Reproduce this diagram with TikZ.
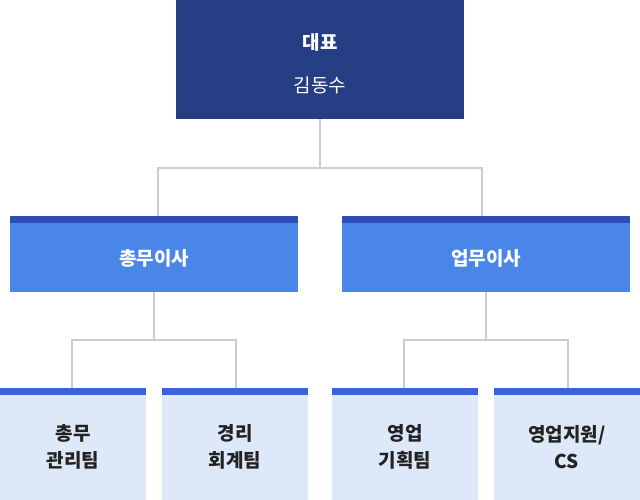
\documentclass[tikz,border=0pt]{standalone}
\usepackage{fontspec}
\setmainfont{Noto Sans CJK KR}
\newfontfamily\krb{Noto Sans CJK KR}[BoldFont={* Bold}]
\definecolor{navy}{HTML}{263E84}
\definecolor{midb}{HTML}{4A86E8}
\definecolor{strip}{HTML}{2E4DB8}
\definecolor{strip2}{HTML}{3A63D8}
\definecolor{light}{HTML}{DDE8F8}
\definecolor{ln}{HTML}{CCCCCC}
\definecolor{txt}{HTML}{222222}
\begin{document}
\begin{tikzpicture}[x=1pt,y=-1pt,
  conn/.style={draw=ln,line width=1.2pt},
  lbl/.style={font=\fontsize{19}{27}\selectfont\bfseries,align=center,inner sep=0}]
\useasboundingbox (0,0) rectangle (640,500);
% connectors
\coordinate (t) at (320,119);
\draw[conn] (t) -- (320,168) -| (158,216);
\draw[conn] (320,168) -| (482,216);
\draw[conn] (154,292) -- (154,340) -| (72,388);
\draw[conn] (154,340) -| (236,388);
\draw[conn] (486,292) -- (486,340) -| (404,388);
\draw[conn] (486,340) -| (568,388);
% top
\fill[navy] (176,0) rectangle (464,119);
\node[lbl,text=white] (ceo) at (320,42) {대표};
\node[font=\fontsize{19}{24}\selectfont,text=white,inner sep=0] (ceon) at (320,85) {김동수};
% mid
\foreach \x/\n/\t in {10/m1/총무이사,342/m2/업무이사}{
  \fill[midb] (\x,216) rectangle (\x+288,292);
  \fill[strip] (\x,216) rectangle (\x+288,223);
  \node[lbl,text=white] (\n) at (\x+144,258) {\t};
}
% bottom
\foreach \x/\n/\t in {0/b1/{총무\\관리팀},162/b2/{경리\\회계팀},332/b3/{영업\\기획팀},494/b4/{영업지원/\\CS}}{
  \fill[light] (\x,388) rectangle (\x+146,500);
  \fill[strip2] (\x,388) rectangle (\x+146,395);
  \node[lbl,text=txt] (\n) at (\x+73,447) {\t};
}
\end{tikzpicture}
\end{document}
